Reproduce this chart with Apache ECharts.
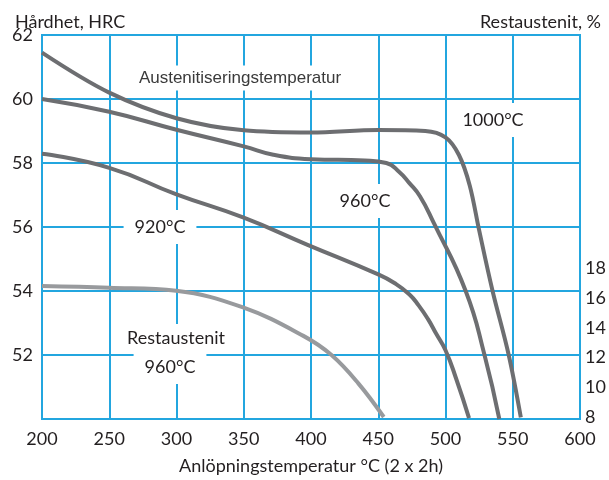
<!DOCTYPE html>
<html>
<head>
<meta charset="utf-8">
<script src="https://cdn.jsdelivr.net/npm/echarts@6/dist/echarts.min.js"></script>
<style>
  html, body { margin: 0; padding: 0; background: #fff; }
  #chart { width: 609px; height: 480px; }
</style>
</head>
<body>
<div id="chart"></div>
<script>
// Anlöpningstemperatur, °C
const temp1000 = [200, 250, 300, 350, 400, 450, 485, 500, 510, 518, 525, 535, 547, 556];
const hrc1000 = [61.45, 60.2, 59.4, 59.02, 58.95, 59.03, 59.0, 58.8, 58.25, 57.3, 55.9, 54.0, 52.0, 50.05];

const temp960 = [200, 250, 300, 350, 372, 400, 440, 456, 466, 473, 481, 491, 515, 529, 540];
const hrc960 = [60.0, 59.6, 59.04, 58.52, 58.26, 58.12, 58.08, 58.0, 57.7, 57.38, 56.96, 56.15, 54.0, 52.0, 50.0];

const temp920 = [200, 250, 300, 350, 397, 450, 462, 473, 480, 487, 493, 500, 508, 517.5];
const hrc920 = [58.29, 57.85, 57.02, 56.29, 55.45, 54.52, 54.25, 53.9, 53.55, 53.12, 52.67, 52.15, 51.25, 50.03];

// Restaustenit 960°C, %
const tempRa = [200, 250, 300, 350, 395, 416, 436, 455];
const restAust = [16.8, 16.68, 16.48, 15.36, 13.45, 12.16, 10.26, 8.0];

const pairs = (xs, ys) => xs.map((x, i) => [x, ys[i]]);

const blue = "#23a6df";
const ink = "#231f20";
const font = "Lato, 'Open Sans', sans-serif";

let chart = echarts.init(document.getElementById("chart"));

function label(text, x, y, size, pad, extra) {
  return {
    type: "text",
    x: x,
    y: y,
    z: 10,
    style: Object.assign({
      text: text,
      align: "center",
      verticalAlign: "middle",
      fill: ink,
      font: size + "px " + font,
      backgroundColor: "#fff",
      padding: pad,
    }, extra || {}),
  };
}

let option = {
  backgroundColor: "#fff",
  animation: false,
  title: [
    {
      text: "Hårdhet, HRC",
      left: 10,
      top: 8,
      textStyle: { fontSize: 18, fontWeight: "normal", color: ink, fontFamily: font },
    },
    {
      text: "Restaustenit, %",
      right: 3,
      top: 8,
      textStyle: { fontSize: 18, fontWeight: "normal", color: ink, fontFamily: font },
    },
  ],
  grid: [
    { left: 42, right: 29, top: 35, bottom: 58, show: true, borderColor: blue, borderWidth: 2 },
    { left: 42, right: 29, top: 30, bottom: 63 },
  ],
  xAxis: [
    {
      type: "value",
      min: 200,
      max: 600,
      interval: 50,
      name: "Anlöpningstemperatur °C (2 x 2h)",
      nameLocation: "middle",
      nameGap: 38,
      nameTextStyle: { fontSize: 18, color: ink, fontFamily: font },
      axisLine: { show: false },
      axisTick: { show: false },
      axisLabel: { fontSize: 18, color: ink, fontFamily: font, margin: 11 },
      splitLine: { show: true, lineStyle: { color: blue, width: 2 } },
    },
    {
      type: "value",
      gridIndex: 1,
      min: 200,
      max: 600,
      show: false,
    },
  ],
  yAxis: [
    {
      type: "value",
      min: 50,
      max: 62,
      interval: 2,
      axisLine: { show: false },
      axisTick: { show: false },
      axisLabel: {
        fontSize: 18,
        color: ink,
        fontFamily: font,
        margin: 9,
        formatter: (v) => (v === 50 ? "" : v),
      },
      splitLine: { show: true, lineStyle: { color: blue, width: 2 } },
    },
    {
      type: "value",
      gridIndex: 1,
      position: "right",
      min: 8,
      max: 34,
      interval: 2,
      axisLine: { show: false },
      axisTick: { show: false },
      splitLine: { show: false },
      axisLabel: {
        fontSize: 18,
        color: ink,
        fontFamily: font,
        margin: 7,
        formatter: (v) => (v <= 18 ? v : ""),
      },
    },
  ],
  graphic: [
    label("Austenitiseringstemperatur", 240, 78, 17, [4, 3],
      { font: "17px 'Liberation Sans', Arial, sans-serif", fill: "#3a3a3a" }),
    label("1000°C", 493, 120, 18, [8, 5]),
    label("960°C", 365, 201, 18, [8, 6]),
    label("920°C", 160, 227, 18, [8, 11]),
    label("Restaustenit", 176, 338, 18, [5, 4]),
    label("960°C", 170, 367, 18, [8, 11]),
  ],
  series: [
    {
      name: "1000°C",
      type: "line",
      data: pairs(temp1000, hrc1000),
      smooth: 0.35,
      showSymbol: false,
      lineStyle: { color: "#6d6e71", width: 4, cap: "butt" },
      z: 5,
    },
    {
      name: "960°C",
      type: "line",
      data: pairs(temp960, hrc960),
      smooth: 0.5,
      showSymbol: false,
      lineStyle: { color: "#6d6e71", width: 4, cap: "butt" },
      z: 5,
    },
    {
      name: "920°C",
      type: "line",
      data: pairs(temp920, hrc920),
      smooth: 0.5,
      showSymbol: false,
      lineStyle: { color: "#6d6e71", width: 4, cap: "butt" },
      z: 5,
    },
    {
      name: "Restaustenit 960°C",
      type: "line",
      xAxisIndex: 1,
      yAxisIndex: 1,
      data: pairs(tempRa, restAust),
      smooth: 0.4,
      showSymbol: false,
      lineStyle: { color: "#989a9d", width: 4, cap: "butt" },
      z: 5,
    },
  ],
};

chart.setOption(option);
window.addEventListener("resize", () => {
  chart.resize();
});
</script>
</body>
</html>
